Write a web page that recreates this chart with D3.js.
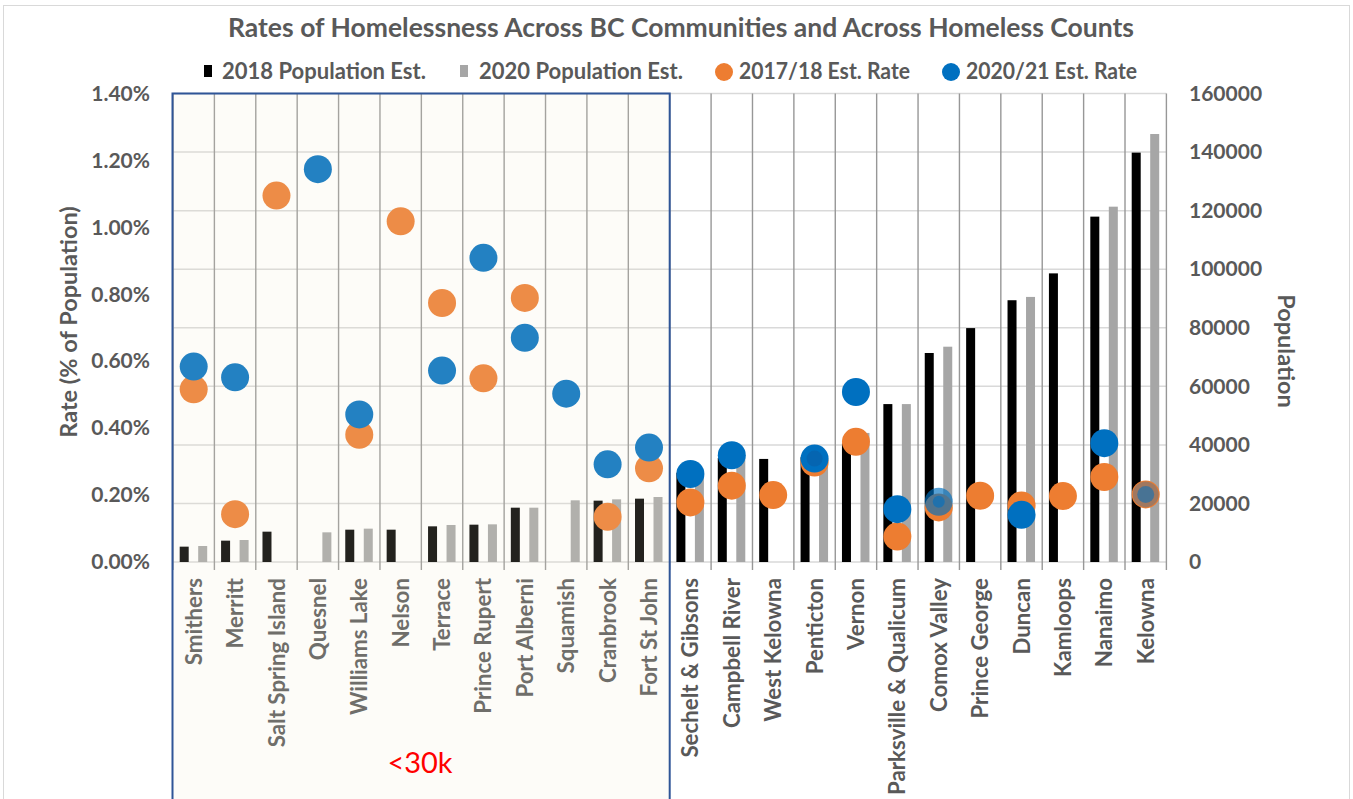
<!DOCTYPE html>
<html>
<head>
<meta charset="utf-8">
<script src="https://cdn.jsdelivr.net/npm/d3@7"></script>
<style>
  html, body { margin: 0; padding: 0; background: #ffffff; }
  svg { display: block; }
  text { font-family: Lato, "Open Sans", sans-serif; }
</style>
</head>
<body>
<svg id="chart" width="1353" height="799"></svg>
<script>
// Communities, ordered by population
const cities = [
  "Smithers", "Merritt", "Salt Spring Island", "Quesnel", "Williams Lake", "Nelson",
  "Terrace", "Prince Rupert", "Port Alberni", "Squamish", "Cranbrook", "Fort St John",
  "Sechelt & Gibsons", "Campbell River", "West Kelowna", "Penticton", "Vernon",
  "Parksville & Qualicum", "Comox Valley", "Prince George", "Duncan", "Kamloops",
  "Nanaimo", "Kelowna"
];
// Population estimates (null = no estimate for that count)
const pop2018 = [
  5240, 7290, 10360, null, 11040, 11040, 12180, 12750, 18550, null, 20950, 21630,
  30500, 35500, 35200, 35800, 40500, 53930, 71380, 79880, 89400, 98570, 117950, 139810
];
const pop2020 = [
  5460, 7510, null, 10130, 11390, null, 12640, 12860, 18550, 21060, 21400, 22200,
  29000, 36500, null, 36500, 44070, 53930, 73530, null, 90530, null, 121350, 146160
];
// Homelessness rates as a fraction of population
const rate1718 = [
  0.00516, 0.00143, 0.01095, null, 0.00380, 0.01018, 0.00774, 0.00549, 0.00789, null, 0.00135, 0.00280,
  0.00178, 0.00228, 0.00200, 0.00297, 0.00359, 0.00076, 0.00163, 0.00198, 0.00169, 0.00197, 0.00254, 0.00202
];
const rate2021 = [
  0.00584, 0.00552, null, 0.01174, 0.00441, null, 0.00572, 0.00909, 0.00670, 0.00503, 0.00292, 0.00342,
  0.00263, 0.00319, null, 0.00309, 0.00508, 0.00158, 0.00180, null, 0.00141, null, 0.00355, 0.00202
];
const rateTicks = [0, 0.002, 0.004, 0.006, 0.008, 0.010, 0.012, 0.014];
const popTicks = [0, 20000, 40000, 60000, 80000, 100000, 120000, 140000, 160000];
const legendItems = ["2018 Population Est.", "2020 Population Est.", "2017/18 Est. Rate", "2020/21 Est. Rate"];
const smallGroupCount = 12; // communities under 30k

const C = {
  black: "#000000", gray: "#a6a6a6", orange: "#ed7d31", blue: "#0070c0",
  text: "#595959", grid: "#d9d9d9", vgrid: "#979797"
};

const svg = d3.select("#chart");
const plot = { left: 173, right: 1166.4, top: 93.5, bottom: 562 };

const x = d3.scaleBand().domain(cities).range([plot.left, plot.right]).padding(0);
const yRate = d3.scaleLinear().domain([0, 0.014]).range([plot.bottom, plot.top]);
const yPop = d3.scaleLinear().domain([0, 160000]).range([plot.bottom, plot.top]);
const cx = c => x(c) + x.bandwidth() / 2;

// outer chart frame
svg.append("rect").attr("x", 3.5).attr("y", 5.5).attr("width", 1346).attr("height", 820)
  .attr("fill", "none").attr("stroke", C.grid).attr("stroke-width", 1);

// title
svg.append("text")
  .attr("x", 681).attr("y", 37).attr("text-anchor", "middle")
  .attr("font-size", 26).attr("font-weight", 700).attr("fill", C.text)
  .attr("textLength", 906).attr("lengthAdjust", "spacingAndGlyphs")
  .text("Rates of Homelessness Across BC Communities and Across Homeless Counts");

// horizontal gridlines (population axis)
svg.append("g").selectAll("line").data(popTicks).join("line")
  .attr("x1", plot.left).attr("x2", plot.right)
  .attr("y1", d => yPop(d)).attr("y2", d => yPop(d))
  .attr("stroke", C.grid).attr("stroke-width", 1.5);

// vertical gridlines at category boundaries, extending as tick marks below the axis
const bounds = cities.map(c => x(c)).concat([plot.right]);
svg.append("g").selectAll("line").data(bounds).join("line")
  .attr("x1", d => d).attr("x2", d => d)
  .attr("y1", plot.top).attr("y2", plot.bottom + 8)
  .attr("stroke", C.vgrid).attr("stroke-width", 1.4);

// population bars
const barW = 9;
const bars = svg.append("g");
bars.selectAll("rect.p18").data(cities.map((c, i) => ({ c, v: pop2018[i] })).filter(d => d.v != null))
  .join("rect").attr("class", "p18")
  .attr("x", d => cx(d.c) - 14).attr("width", barW)
  .attr("y", d => yPop(d.v)).attr("height", d => yPop(0) - yPop(d.v))
  .attr("fill", C.black);
bars.selectAll("rect.p20").data(cities.map((c, i) => ({ c, v: pop2020[i] })).filter(d => d.v != null))
  .join("rect").attr("class", "p20")
  .attr("x", d => cx(d.c) + 4.5).attr("width", barW)
  .attr("y", d => yPop(d.v)).attr("height", d => yPop(0) - yPop(d.v))
  .attr("fill", C.gray);

// rate markers
const R = 14;
const dots = svg.append("g");
dots.selectAll("circle.r17").data(cities.map((c, i) => ({ c, v: rate1718[i] })).filter(d => d.v != null))
  .join("circle").attr("class", "r17")
  .attr("cx", d => cx(d.c)).attr("cy", d => yRate(d.v)).attr("r", R)
  .attr("fill", C.orange);

// a few 2020/21 markers are drawn translucent where they sit on top of the 2017/18 marker
const blueOpacity = { "Comox Valley": 0.66, "Kelowna": 0.32 };
const blueCore = { "Penticton": [8, 0.45], "Comox Valley": [6, 0.6], "Kelowna": [8.5, 0.55] };
const blueData = cities.map((c, i) => ({ c, v: rate2021[i] })).filter(d => d.v != null);
dots.selectAll("circle.r20").data(blueData)
  .join("circle").attr("class", "r20")
  .attr("cx", d => cx(d.c)).attr("cy", d => yRate(d.v))
  .attr("r", d => d.c === "Kelowna" ? R - 1 : R)
  .attr("fill", C.blue)
  .attr("fill-opacity", d => blueOpacity[d.c] ?? 1);
dots.selectAll("circle.core").data(blueData.filter(d => blueCore[d.c]))
  .join("circle").attr("class", "core")
  .attr("cx", d => cx(d.c)).attr("cy", d => yRate(d.v))
  .attr("r", d => blueCore[d.c][0])
  .attr("fill", d => d.c === "Penticton" ? "#0a58a0" : C.blue)
  .attr("fill-opacity", d => blueCore[d.c][1]);

// left axis: rate
const leftAxis = svg.append("g").attr("transform", "translate(150,0)")
  .call(d3.axisLeft(yRate).tickValues(rateTicks).tickFormat(d3.format(".2%")).tickSize(0).tickPadding(0));
leftAxis.select(".domain").remove();
leftAxis.selectAll("text")
  .attr("font-family", "Lato, sans-serif").attr("font-size", 21).attr("font-weight", 700)
  .attr("fill", C.text);

// right axis: population
const rightAxis = svg.append("g").attr("transform", "translate(1189,0)")
  .call(d3.axisRight(yPop).tickValues(popTicks).tickFormat(d3.format("d")).tickSize(0).tickPadding(0));
rightAxis.select(".domain").remove();
rightAxis.selectAll("text")
  .attr("font-family", "Lato, sans-serif").attr("font-size", 21).attr("font-weight", 700)
  .attr("fill", C.text);

// axis titles
svg.append("text")
  .attr("transform", "translate(77,322) rotate(-90)").attr("text-anchor", "middle")
  .attr("font-size", 23.5).attr("font-weight", 700).attr("fill", C.text)
  .text("Rate (% of Population)");
svg.append("text")
  .attr("transform", "translate(1278,351) rotate(90)").attr("text-anchor", "middle")
  .attr("font-size", 23.5).attr("font-weight", 700).attr("fill", C.text)
  .text("Population");

// category labels
svg.append("g").selectAll("text").data(cities).join("text")
  .attr("transform", d => `translate(${cx(d)},578) rotate(-90)`)
  .attr("text-anchor", "end").attr("dy", "0.36em")
  .attr("font-size", 22.3).attr("font-weight", 700).attr("fill", C.text)
  .text(d => d);

// legend
const legend = svg.append("g");
const lgX = [222, 479, 739, 966];
const lgLen = [204, 204, 171, 171];
legend.append("rect").attr("x", 204).attr("y", 65).attr("width", 8).attr("height", 12).attr("fill", C.black);
legend.append("rect").attr("x", 460).attr("y", 65).attr("width", 8).attr("height", 12).attr("fill", C.gray);
legend.append("circle").attr("cx", 724).attr("cy", 72).attr("r", 9).attr("fill", C.orange);
legend.append("circle").attr("cx", 951).attr("cy", 72).attr("r", 9).attr("fill", C.blue);
legend.selectAll("text").data(legendItems).join("text")
  .attr("x", (d, i) => lgX[i]).attr("y", 79)
  .attr("font-size", 22).attr("font-weight", 700).attr("fill", C.text)
  .attr("textLength", (d, i) => lgLen[i]).attr("lengthAdjust", "spacingAndGlyphs")
  .text(d => d);

// highlight box for the smaller communities
const boxRight = x(cities[smallGroupCount]);
svg.append("rect")
  .attr("x", plot.left - 0.5).attr("y", plot.top).attr("width", boxRight - plot.left + 0.5).attr("height", 760)
  .attr("fill", "rgb(240,233,205)").attr("fill-opacity", 0.146);
svg.append("rect")
  .attr("x", plot.left - 0.5).attr("y", plot.top).attr("width", boxRight - plot.left + 0.5).attr("height", 760)
  .attr("fill", "none").attr("stroke", "#2f5597").attr("stroke-width", 2);
svg.append("text")
  .attr("x", 420).attr("y", 773).attr("text-anchor", "middle")
  .attr("font-size", 29).attr("fill", "#ff0000")
  .text("<30k");
</script>
</body>
</html>
